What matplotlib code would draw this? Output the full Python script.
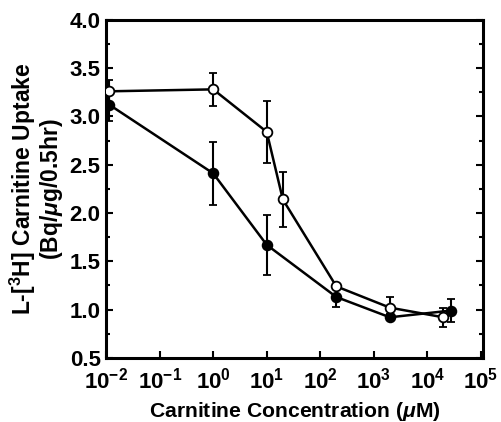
"""Carnitine uptake vs. carnitine concentration (log x axis), two series."""
from __future__ import annotations

import matplotlib

matplotlib.use("Agg")
import matplotlib.pyplot as plt
from matplotlib.ticker import FixedLocator, LogLocator, NullFormatter

# --------------------------------------------------------------------------- #
# Data
# --------------------------------------------------------------------------- #
open_conc = [0.0115, 1.0, 10.0, 20.0, 200.0, 2000.0, 20000.0]
open_uptake = [3.26, 3.28, 2.84, 2.14, 1.24, 1.02, 0.92]
open_err = [0.12, 0.17, 0.32, 0.28, 0.0, 0.11, 0.10]

filled_conc = [0.0115, 1.0, 10.0, 200.0, 2000.0, 28000.0]
filled_uptake = [3.12, 2.41, 1.67, 1.13, 0.92, 0.99]
filled_err = [0.17, 0.33, 0.31, 0.10, 0.03, 0.12]

x_ticks = [1e-2, 1e-1, 1e0, 1e1, 1e2, 1e3, 1e4, 1e5]
y_ticks = [0.5, 1.0, 1.5, 2.0, 2.5, 3.0, 3.5, 4.0]


def setup_fonts() -> None:
    plt.rcParams["font.family"] = ["Liberation Sans", "DejaVu Sans"]
    plt.rcParams["font.weight"] = "bold"
    plt.rcParams["mathtext.fontset"] = "custom"
    plt.rcParams["mathtext.rm"] = "Liberation Sans:bold"
    plt.rcParams["mathtext.bf"] = "Liberation Sans:bold"
    plt.rcParams["mathtext.it"] = "Liberation Sans:bold:italic"


def plot(path: str = "out.png") -> None:
    setup_fonts()
    fig = plt.figure(figsize=(5.01, 4.22), dpi=100)
    ax = fig.add_axes([0.212, 0.152, 0.752, 0.801])

    line_kw = dict(color="black", lw=1.8, capsize=3, capthick=1.5,
                   elinewidth=1.5, markersize=7, markeredgewidth=1.3,
                   markeredgecolor="black", zorder=3)
    ax.errorbar(filled_conc, filled_uptake, yerr=filled_err, fmt="-o",
                markerfacecolor="black", **line_kw)
    ax.errorbar(open_conc, open_uptake, yerr=open_err, fmt="-o",
                markerfacecolor="white", **line_kw)

    ax.set_xscale("log")
    ax.set_xlim(1e-2, 1.1e5)
    ax.set_ylim(0.5, 4.0)
    ax.xaxis.set_major_locator(FixedLocator(x_ticks))
    ax.xaxis.set_minor_locator(LogLocator(base=10, subs=range(2, 10)))
    ax.xaxis.set_minor_formatter(NullFormatter())
    ax.set_yticks(y_ticks)
    ax.set_yticklabels([f"{v:.1f}" for v in y_ticks])
    ax.yaxis.set_minor_locator(FixedLocator([v + 0.25 for v in y_ticks[:-1]]))

    for s in ax.spines.values():
        s.set_linewidth(2.2)
    ax.tick_params(which="both", direction="in", top=False, right=True,
                   labelsize=16, width=1.5)
    ax.tick_params(axis="y", pad=4)
    ax.tick_params(axis="x", pad=7)
    ax.tick_params(which="major", length=5)
    ax.tick_params(which="minor", length=3)

    ax.set_xlabel(r"Carnitine Concentration ($\mathit{\mu}$M)",
                  fontsize=15.2, fontweight="bold", labelpad=5)
    ax.set_ylabel("L-[$^3$H] Carnitine Uptake\n(Bq/$\\mathit{\\mu}$g/0.5hr)",
                  fontsize=16.5, fontweight="bold", labelpad=3,
                  linespacing=1.0)

    fig.savefig(path, dpi=100)
    plt.close(fig)


if __name__ == "__main__":
    plot()
